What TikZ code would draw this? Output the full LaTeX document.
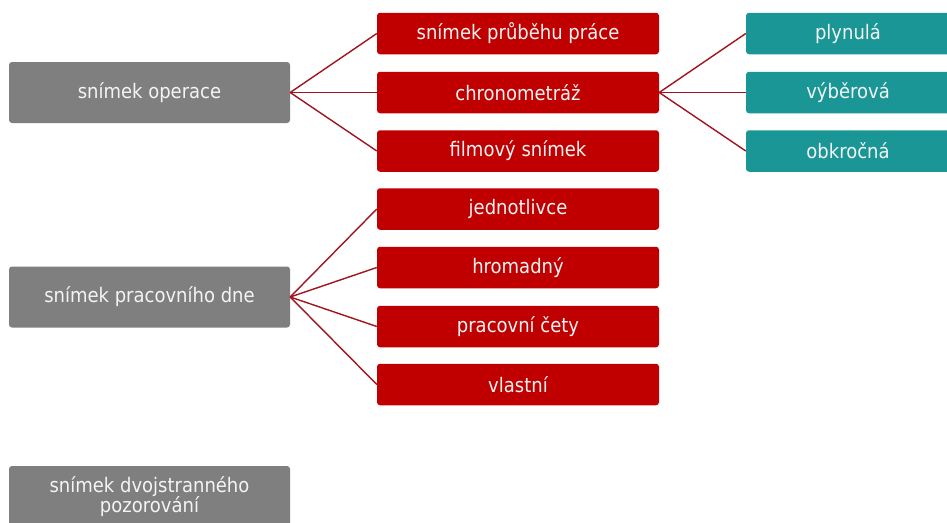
\documentclass[tikz,border=0pt]{standalone}
\usepackage{fontspec}
\setmainfont[FakeStretch=0.9]{DejaVu Sans}
\definecolor{boxgray}{HTML}{7F7F7F}
\definecolor{boxred}{HTML}{C00000}
\definecolor{boxteal}{HTML}{1A9696}
\definecolor{linkred}{HTML}{A0141E}
\definecolor{txt}{HTML}{F4F4F4}
\tikzset{
  base/.style={rectangle, rounded corners=3pt, inner sep=0pt, text=txt, align=center,
    font=\fontsize{20}{20.5}\selectfont},
  graybox/.style={base, fill=boxgray, minimum width=281pt, minimum height=61pt},
  redbox/.style={base, fill=boxred, minimum width=282pt, minimum height=41.5pt},
  tealbox/.style={base, fill=boxteal, minimum width=204pt, minimum height=41.5pt},
  link/.style={draw=linkred, line width=1.4pt}
}
\begin{document}
\begin{tikzpicture}[x=1pt,y=-1pt]
\useasboundingbox (0,0) rectangle (947,522);
\clip (0,0) rectangle (947,522);
\fill[white] (0,0) rectangle (947,522);
\node[graybox] (g1) at (149.5,92.5) {snímek operace};
\node[graybox] (g2) at (149.5,297) {snímek pracovního dne};
\node[graybox] (g3) at (149.5,496.5) {snímek dvojstranného\\pozorování};
\node[redbox] (r1) at (518,33.5) {snímek průběhu práce};
\node[redbox] (r2) at (518,92.5) {chronometráž};
\node[redbox] (r3) at (518,151) {filmový snímek};
\node[redbox] (r4) at (518,209) {jednotlivce};
\node[redbox] (r5) at (518,267.5) {hromadný};
\node[redbox] (r6) at (518,326.5) {pracovní čety};
\node[redbox] (r7) at (518,384.5) {vlastní};
\node[tealbox] (t1) at (848,33.5) {plynulá};
\node[tealbox] (t2) at (848,92.5) {výběrová};
\node[tealbox] (t3) at (848,151) {obkročná};
\foreach \r in {r1,r2,r3} \draw[link] (g1.east) -- (\r.west);
\foreach \r in {r4,r5,r6,r7} \draw[link] (g2.east) -- (\r.west);
\foreach \t in {t1,t2,t3} \draw[link] (r2.east) -- (\t.west);
\end{tikzpicture}
\end{document}
